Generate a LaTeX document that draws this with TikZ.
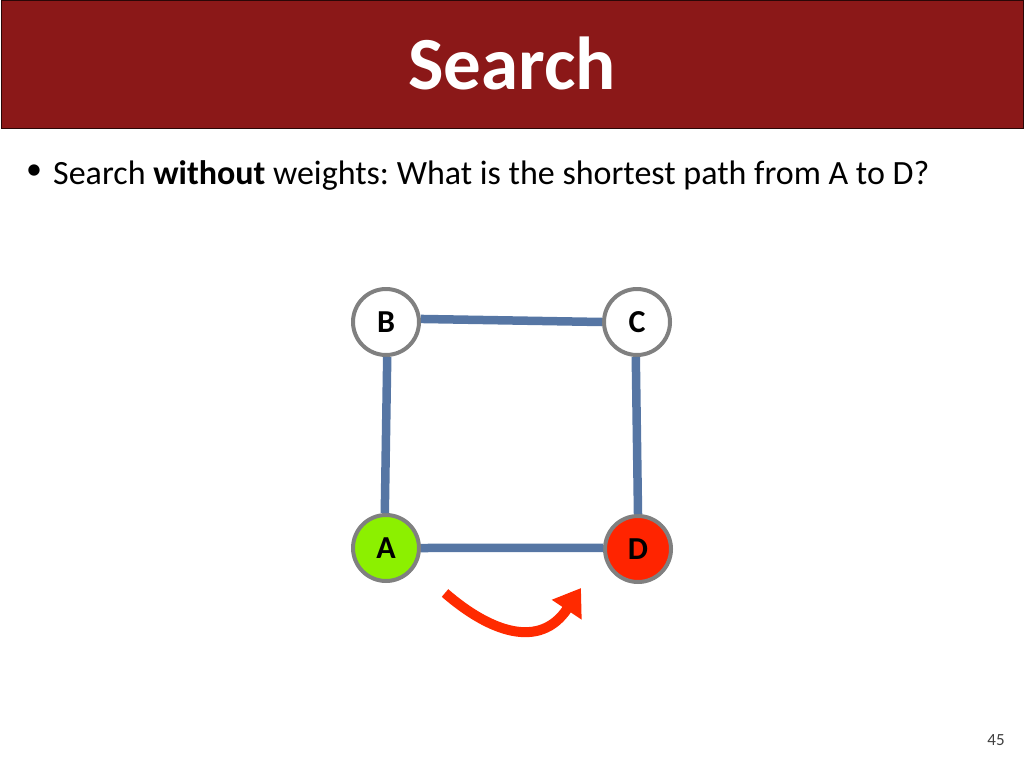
\documentclass[tikz,border=0pt]{standalone}
\usepackage{fontspec}
\setmainfont{Carlito}
\usepackage{tikz}
\usetikzlibrary{positioning,arrows.meta,shapes}
\definecolor{titlered}{RGB}{139,24,24}
\definecolor{edgeblue}{RGB}{86,118,164}
\definecolor{ringgray}{RGB}{128,128,128}
\definecolor{startgreen}{RGB}{140,240,0}
\definecolor{goalred}{RGB}{255,36,0}
\definecolor{arrowred}{RGB}{255,42,0}
\frenchspacing
\newcommand{\labelfont}{\fontsize{32}{34}\selectfont\bfseries}
\tikzset {
    graph node/.style={
        circle, % Set the shape as a circle
        draw=ringgray,
        line width=4pt,
        fill=white,
        minimum size=66pt,
        inner sep=0pt,
    },
    start node/.style={
        graph node,
        fill=startgreen,
    },
    goal node/.style={
        graph node,
        fill=goalred,
    },
    edge line/.style={
        draw=edgeblue,
        line width=8.5pt,
    },
}
\begin{document}
\begin{tikzpicture}
[x=1pt, y=-1pt]
\useasboundingbox (0,0) rectangle (1024,768);

% title bar
\node[draw=black!70!titlered, fill=titlered, line width=1pt, minimum width=1022pt, minimum height=127pt, inner sep=0pt, anchor=north west] (bar) at (1,0.5) {};
\node[anchor=base, text=white, font=\bfseries\fontsize{75}{80}\selectfont] (title) at (512,89) {Search};

\node[font=\fontsize{32}{34}\selectfont] (dot) at (34,172) {\textbullet};
\node[anchor=base west, inner sep=0pt, font=\fontsize{34}{38}\selectfont] (question) at (53,184) {Search \textbf{without} weights: What is the shortest path from A to D?};

\node[graph node] (b) at (386,322) {\labelfont B};
\node[graph node] (c) at (637,322) {\labelfont C};
\node[start node] (a) at (386,548) {\labelfont A};
\node[goal node] (d) at (638,549) {\labelfont D};

\draw[edge line] (b.5) -- (c.180);
\draw[edge line] (b.-88) -- (a.92);
\draw[edge line] (c.-92) -- (d.90);
\draw[edge line] (a.0) -- (d.178);

\coordinate (from) at (445,593);
\coordinate (to) at (581,588);
\draw[draw=arrowred, line width=10pt, -{Triangle[width=34pt, length=26pt]}]
    (from) .. controls (490,632) and (540,650) .. (to);

\node[text=black!75, font=\fontsize{17}{19}\selectfont] (page) at (996,740) {45};
\end{tikzpicture}
\end{document}
